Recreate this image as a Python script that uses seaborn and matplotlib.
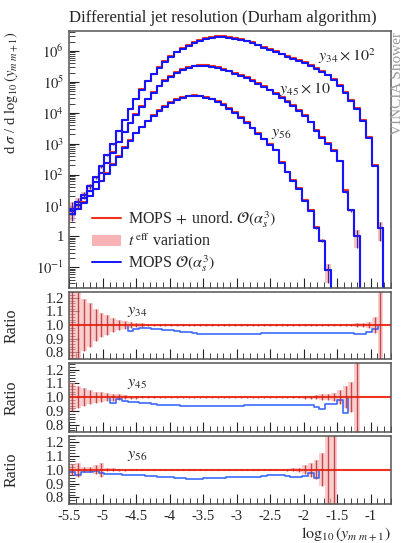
import numpy as np
import seaborn as sns
import matplotlib.pyplot as plt
from matplotlib.lines import Line2D
from matplotlib.patches import Patch
from matplotlib.ticker import FixedLocator, MultipleLocator, LogLocator, NullFormatter, FormatStrFormatter

nan = np.nan

# bins of 0.2 in ln(y), drawn against log10(y)
bin_width = 0.2 / np.log(10)
edges = -5.5 + bin_width * np.arange(56)
centers = 0.5 * (edges[:-1] + edges[1:])

# log10 of d sigma / d log10(y) for MOPS + unord. (y34 x 100, y45 x 10, y56)
y34_log = [0.9, 1.1, 1.35, 1.62, 1.92, 2.27, 2.63, 3.0, 3.4, 3.78,
           4.13, 4.46, 4.76, 5.03, 5.27, 5.48, 5.67, 5.84, 5.98, 6.1,
           6.2, 6.29, 6.36, 6.42, 6.46, 6.48, 6.48, 6.46, 6.43, 6.39,
           6.34, 6.28, 6.21, 6.14, 6.07, 5.99, 5.92, 5.85, 5.78, 5.71,
           5.63, 5.55, 5.46, 5.36, 5.24, 5.08, 4.9, 4.68, 4.42, 4.15,
           3.77, 3.22, 2.31, 0.26, nan]
y45_log = [0.82, 1.02, 1.24, 1.48, 1.75, 2.05, 2.38, 2.72, 3.06, 3.38,
           3.68, 3.96, 4.22, 4.46, 4.68, 4.88, 5.05, 5.2, 5.32, 5.42,
           5.49, 5.53, 5.55, 5.54, 5.52, 5.48, 5.43, 5.37, 5.3, 5.23,
           5.15, 5.06, 4.96, 4.86, 4.75, 4.63, 4.51, 4.38, 4.24, 4.09,
           3.92, 3.72, 3.45, 3.22, 3.02, 2.8, 2.45, 1.5, 0.85, 0.02,
           nan, nan, nan, nan, nan]
y56_log = [0.72, 0.9, 1.1, 1.32, 1.55, 1.8, 2.05, 2.33, 2.6, 2.88,
           3.12, 3.35, 3.55, 3.75, 3.93, 4.08, 4.22, 4.35, 4.45, 4.52,
           4.56, 4.57, 4.56, 4.52, 4.46, 4.38, 4.29, 4.16, 4.02, 3.87,
           3.7, 3.52, 3.34, 3.16, 2.98, 2.8, 2.4, 2.1, 1.83, 1.56,
           1.18, 0.85, 0.29, -0.14, -1.1, -2.0, nan, nan, nan, nan,
           nan, nan, nan, nan, nan]

# ratio MOPS O(as^3) / (MOPS + unord.)
r34 = [1, 1, 1, 1, 1, 1, 1, 1, 1, 1,
       0.955, 0.97, 0.975, 0.975, 0.97, 0.968, 0.965, 0.96, 0.955, 0.95,
       0.945, 0.94, 0.937, 0.935, 0.934, 0.934, 0.934, 0.935, 0.935, 0.936,
       0.936, 0.937, 0.937, 0.938, 0.938, 0.939, 0.939, 0.94, 0.94, 0.94,
       0.938, 0.942, 0.94, 0.94, 0.938, 0.94, 0.941, 0.94, 0.938, 0.937,
       0.935, 0.95, 0.968, 1.0, 1.0]
r45 = [1, 1, 1, 1, 1, 1, 1, 0.96, 0.985, 0.975,
       0.965, 0.965, 0.957, 0.955, 0.95, 0.947, 0.945, 0.943, 0.941, 0.939,
       0.937, 0.935, 0.934, 0.934, 0.935, 0.936, 0.937, 0.938, 0.939, 0.94,
       0.941, 0.942, 0.943, 0.943, 0.944, 0.944, 0.945, 0.944, 0.945, 0.944,
       0.943, 0.944, 0.93, 0.918, 0.95, 0.95, 0.98, 0.885, 1.0, 1.0,
       1.0, 1.0, 1.0, 1.0, 1.0]
r56 = [0.983, 0.964, 0.983, 0.983, 0.988, 0.978, 0.97, 0.968, 0.966, 0.964,
       0.962, 0.96, 0.958, 0.956, 0.953, 0.95, 0.947, 0.944, 0.94, 0.937,
       0.935, 0.935, 0.936, 0.938, 0.94, 0.942, 0.943, 0.944, 0.945, 0.946,
       0.947, 0.948, 0.95, 0.955, 0.958, 0.96, 0.958, 0.955, 0.948, 0.945,
       0.955, 0.975, 0.94, 1.0, 1.0, 1.0, 1.0, 1.0, 1.0, 1.0,
       1.0, 1.0, 1.0, 1.0, 1.0]

# relative t_eff variation / stat. uncertainty
e34 = [0.6, 0.35, 0.19, 0.16, 0.12, 0.09, 0.07, 0.055, 0.04, 0.03,
       0.02, 0.015, 0.012, 0.01, 0.008, 0.006, 0.005, 0.004, 0.004, 0.004,
       0.004, 0.004, 0.004, 0.004, 0.004, 0.004, 0.004, 0.004, 0.004, 0.004,
       0.004, 0.004, 0.004, 0.004, 0.004, 0.004, 0.004, 0.004, 0.004, 0.004,
       0.004, 0.004, 0.004, 0.004, 0.004, 0.005, 0.006, 0.008, 0.01, 0.012,
       0.015, 0.025, 0.06, 0.6, nan]
e45 = [0.1, 0.08, 0.065, 0.05, 0.04, 0.035, 0.03, 0.025, 0.02, 0.015,
       0.012, 0.01, 0.008, 0.007, 0.006, 0.005, 0.005, 0.005, 0.005, 0.005,
       0.005, 0.005, 0.005, 0.005, 0.005, 0.005, 0.005, 0.005, 0.005, 0.005,
       0.005, 0.005, 0.005, 0.005, 0.005, 0.005, 0.005, 0.005, 0.006, 0.008,
       0.01, 0.012, 0.015, 0.02, 0.02, 0.03, 0.05, 0.08, 0.11, 0.6,
       nan, nan, nan, nan, nan]
e56 = [0.04, 0.05, 0.02, 0.02, 0.03, 0.05, 0.012, 0.01, 0.008, 0.007,
       0.006, 0.005, 0.005, 0.005, 0.005, 0.005, 0.005, 0.005, 0.005, 0.005,
       0.005, 0.005, 0.005, 0.005, 0.005, 0.005, 0.005, 0.005, 0.005, 0.005,
       0.005, 0.005, 0.005, 0.005, 0.005, 0.005, 0.006, 0.008, 0.01, 0.015,
       0.03, 0.05, 0.07, 0.12, 0.6, 0.6, nan, nan, nan, nan,
       nan, nan, nan, nan, nan]

labels_main = [r"$y_{34}\times10^2$", r"$y_{45}\times10$", r"$y_{56}$"]
labels_ratio = [r"$y_{34}$", r"$y_{45}$", r"$y_{56}$"]

red = "#f0321e"
blue = "#1414ff"
blue_r = "#3d6bff"
pink = "#f8b4b4"
darkred = "#b22a2a"

sns.set_theme(style="ticks")
plt.rcParams["font.family"] = ["Liberation Serif", "DejaVu Serif"]
plt.rcParams["mathtext.fontset"] = "stix"
plt.rcParams["axes.unicode_minus"] = False

fig = plt.figure(figsize=(4.04, 5.43), dpi=100)
ax = fig.add_axes([0.172, 0.4705, 0.795, 0.4715])
rax = [fig.add_axes([0.172, b, 0.795, h])
       for b, h in [(0.3389, 0.1239), (0.2050, 0.1256), (0.0713, 0.1263)]]

ax.set_yscale("log")
for logv, ratio, err in [(y34_log, r34, e34), (y45_log, r45, e45), (y56_log, r56, e56)]:
    ref = 10.0 ** np.array(logv, dtype=float)
    ref = np.where(np.isnan(ref), 1e-4, ref)
    rel = np.nan_to_num(np.array(err, dtype=float))
    mops = ref * np.array(ratio, dtype=float)
    lo = ref * np.clip(1 - rel, 0.05, None)
    hi = ref * (1 + rel)
    ax.fill_between(edges, np.append(lo, lo[-1]), np.append(hi, hi[-1]),
                    step="post", color=pink, lw=0, alpha=0.8)
    sns.lineplot(x=edges, y=np.append(ref, ref[-1]), drawstyle="steps-post",
                 color=red, lw=1.5, ax=ax, estimator=None, sort=False)
    sns.lineplot(x=edges, y=np.append(mops, mops[-1]), drawstyle="steps-post",
                 color=blue, lw=1.5, ax=ax, estimator=None, sort=False)
    big = rel > 0.05
    ax.vlines(centers[big], (mops * (1 - np.clip(rel, 0, 0.6)))[big], (mops * (1 + rel))[big],
              color="#3a2aa0", lw=0.9)

ax.set_xlim(-5.5, -0.7)
ax.set_ylim(0.0222, 4.3e6)
ax.yaxis.set_major_locator(FixedLocator([1e-1, 1, 1e1, 1e2, 1e3, 1e4, 1e5, 1e6]))
ax.set_yticklabels([r"$10^{-1}$", "1", r"$10^{1}$", r"$10^{2}$", r"$10^{3}$",
                    r"$10^{4}$", r"$10^{5}$", r"$10^{6}$"])
ax.yaxis.set_minor_locator(LogLocator(base=10, subs=np.arange(2, 10), numticks=20))
ax.yaxis.set_minor_formatter(NullFormatter())
ax.xaxis.set_major_locator(MultipleLocator(0.5))
ax.xaxis.set_minor_locator(MultipleLocator(0.1))
ax.set_xticklabels([])
ax.set_xlabel("")
ax.set_ylabel(r"d $\sigma$ / d $\log_{10}(y_{m\ m+1})$", fontsize=10.5, loc="top")
ax.yaxis.set_label_coords(-0.155, 1.0)
ax.set_title("Differential jet resolution (Durham algorithm)", loc="left", fontsize=12, pad=7)

ax.text(0.774, 0.905, labels_main[0], transform=ax.transAxes, fontsize=11.5, va="center")
ax.text(0.652, 0.775, labels_main[1], transform=ax.transAxes, fontsize=11.5, va="center")
ax.text(0.627, 0.605, labels_main[2], transform=ax.transAxes, fontsize=11.5, va="center")

handles = [Line2D([], [], color=red, lw=1.5),
           Patch(facecolor=pink, edgecolor="none"),
           Line2D([], [], color=blue, lw=1.4)]
ax.legend(handles, [r"MOPS$\,+\,$unord. $\mathcal{O}(\alpha_s^3)$",
                    r"$t^{\,\mathrm{eff}}$ variation",
                    r"MOPS $\mathcal{O}(\alpha_s^3)$"],
          loc="upper left", bbox_to_anchor=(0.07, 0.305), frameon=False,
          fontsize=11.5, handlelength=1.8, handletextpad=0.45, labelspacing=0.2,
          borderpad=0, borderaxespad=0)

fig.text(0.985, 1 - 32 / 543, "VINCIA Shower", rotation=90, va="top", ha="center",
         color="#9a9a9a", fontsize=11)

for rx, ratio, err, lab in zip(rax, [r34, r45, r56], [e34, e45, e56], labels_ratio):
    rel = np.nan_to_num(np.array(err, dtype=float))
    rr = np.array(ratio, dtype=float)
    rx.fill_between(edges, np.append(1 - rel, 1 - rel[-1]), np.append(1 + rel, 1 + rel[-1]),
                    step="post", color=pink, lw=0, alpha=0.65)
    sns.lineplot(x=edges, y=np.append(rr, rr[-1]), drawstyle="steps-post",
                 color=blue_r, lw=1.2, ax=rx, estimator=None, sort=False)
    rx.axhline(1.0, color=red, lw=1.5)
    rx.vlines(centers, 1 - rel, 1 + rel, color=darkred, lw=1.0, alpha=0.8)
    rx.set_xlim(-5.5, -0.7)
    rx.set_ylim(0.75, 1.245)
    rx.yaxis.set_major_locator(FixedLocator([0.8, 0.9, 1.0, 1.1, 1.2]))
    rx.yaxis.set_major_formatter(FormatStrFormatter("%.1f"))
    rx.yaxis.set_minor_locator(MultipleLocator(0.02))
    rx.xaxis.set_major_locator(MultipleLocator(0.5))
    rx.xaxis.set_minor_locator(MultipleLocator(0.1))
    rx.set_ylabel("Ratio", fontsize=11.5)
    rx.yaxis.set_label_coords(-0.155, 0.5)
    rx.set_xlabel("")
    rx.text(0.18, 0.72, lab, transform=rx.transAxes, fontsize=11.5, va="center")

for rx in rax[:2]:
    rx.set_xticklabels([])
ticks_x = [-5.5, -5, -4.5, -4, -3.5, -3, -2.5, -2, -1.5, -1]
rax[2].xaxis.set_major_locator(FixedLocator(ticks_x))
rax[2].set_xticklabels(["-5.5", "-5", "-4.5", "-4", "-3.5", "-3", "-2.5", "-2", "-1.5", "-1"])
rax[2].set_xlabel(r"$\log_{10}(y_{m\ m+1})$", loc="right", fontsize=11.5, labelpad=2)

for a in [ax] + rax:
    a.tick_params(which="both", direction="in", top=False, right=False, labelsize=10.5,
                  color="#222222", pad=4)
    a.tick_params(which="major", length=7, width=0.8)
    a.tick_params(which="minor", length=4, width=0.6)
    for s in a.spines.values():
        s.set_color("#555555")
        s.set_linewidth(1.1)

fig.savefig("out.png", dpi=100)
